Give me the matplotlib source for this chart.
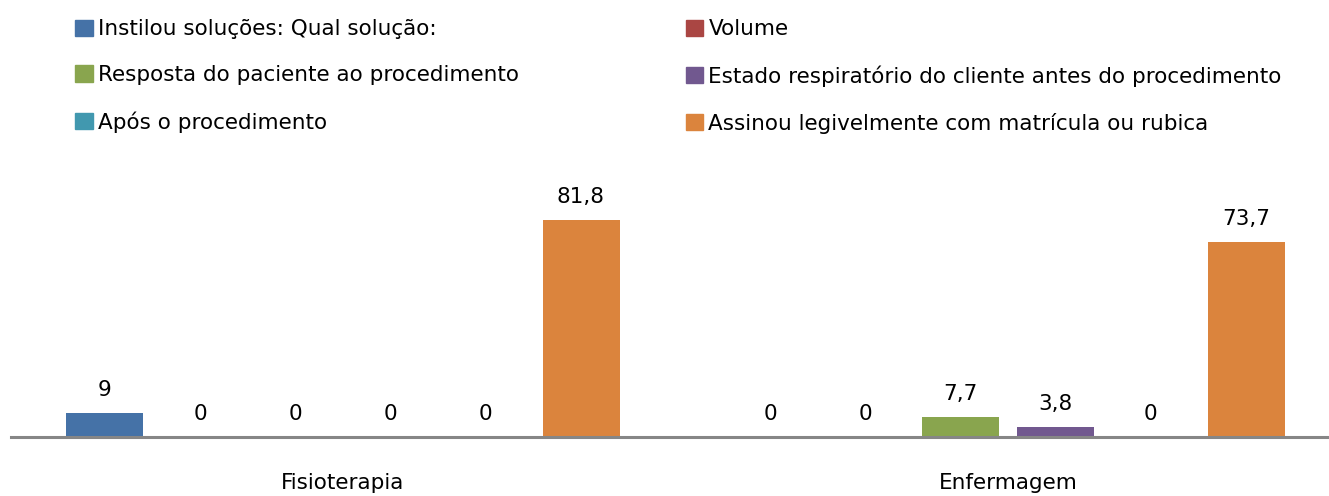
import matplotlib.pyplot as plt
from matplotlib.patches import Patch
import numpy as np

plt.rcParams['font.family'] = ['DejaVu Sans']

grupos = ['Fisioterapia', 'Enfermagem']
series = [
    'Instilou soluções: Qual solução:',
    'Volume',
    'Resposta do paciente ao procedimento',
    'Estado respiratório do cliente antes do procedimento',
    'Após o procedimento',
    'Assinou legivelmente com matrícula ou rubica',
]
valores = [
    [9, 0],
    [0, 0],
    [0, 7.7],
    [0, 3.8],
    [0, 0],
    [81.8, 73.7],
]
rotulos = [
    ['9', '0'],
    ['0', '0'],
    ['0', '7,7'],
    ['0', '3,8'],
    ['0', '0'],
    ['81,8', '73,7'],
]
cores = ['#4572A7', '#AA4643', '#89A54E', '#71588F', '#4198AF', '#DB843D']

W, H = 1329, 496
fig = plt.figure(figsize=(W / 100, H / 100), dpi=100)
# eixo em pixels: base em y=437, uma categoria = 665 px
ax = fig.add_axes([10.5 / W, (H - 437) / H, 1330 / W, 265 / H])
ax.set_xlim(-0.5, 1.5)
ax.set_ylim(0, 100)

x = np.arange(len(grupos))
passo = 95.2 / 665
largura = 77 / 665
for i, (nome, vals, cor) in enumerate(zip(series, valores, cores)):
    pos = x + (i - 2.5) * passo
    ax.bar(pos, vals, width=largura, color=cor, label=nome)
    for px, v, txt in zip(pos, vals, rotulos[i]):
        ax.annotate(txt, (px, v), xytext=(0, 16.5), textcoords='offset points',
                    ha='center', va='center', fontsize=15.5)

for s in ['top', 'right', 'left']:
    ax.spines[s].set_visible(False)
ax.spines['bottom'].set_color('#868686')
ax.spines['bottom'].set_linewidth(2.2)
ax.set_yticks([])
ax.set_xticks(x)
ax.set_xticklabels(grupos, fontsize=15.5)
ax.tick_params(axis='x', length=0, pad=26)

# legenda em duas colunas, preenchida por linhas
ordem = [0, 2, 4, 1, 3, 5]
handles = [Patch(color=cores[k]) for k in ordem]
labels = [series[k] for k in ordem]
fig.legend(handles, labels, ncol=2, loc='upper left',
           bbox_to_anchor=(56 / W, 1.0), frameon=False, fontsize=15.5,
           handlelength=0.8, handleheight=0.8, handletextpad=0.25,
           labelspacing=1.2, columnspacing=7.75)

fig.savefig('out.png', dpi=100)
